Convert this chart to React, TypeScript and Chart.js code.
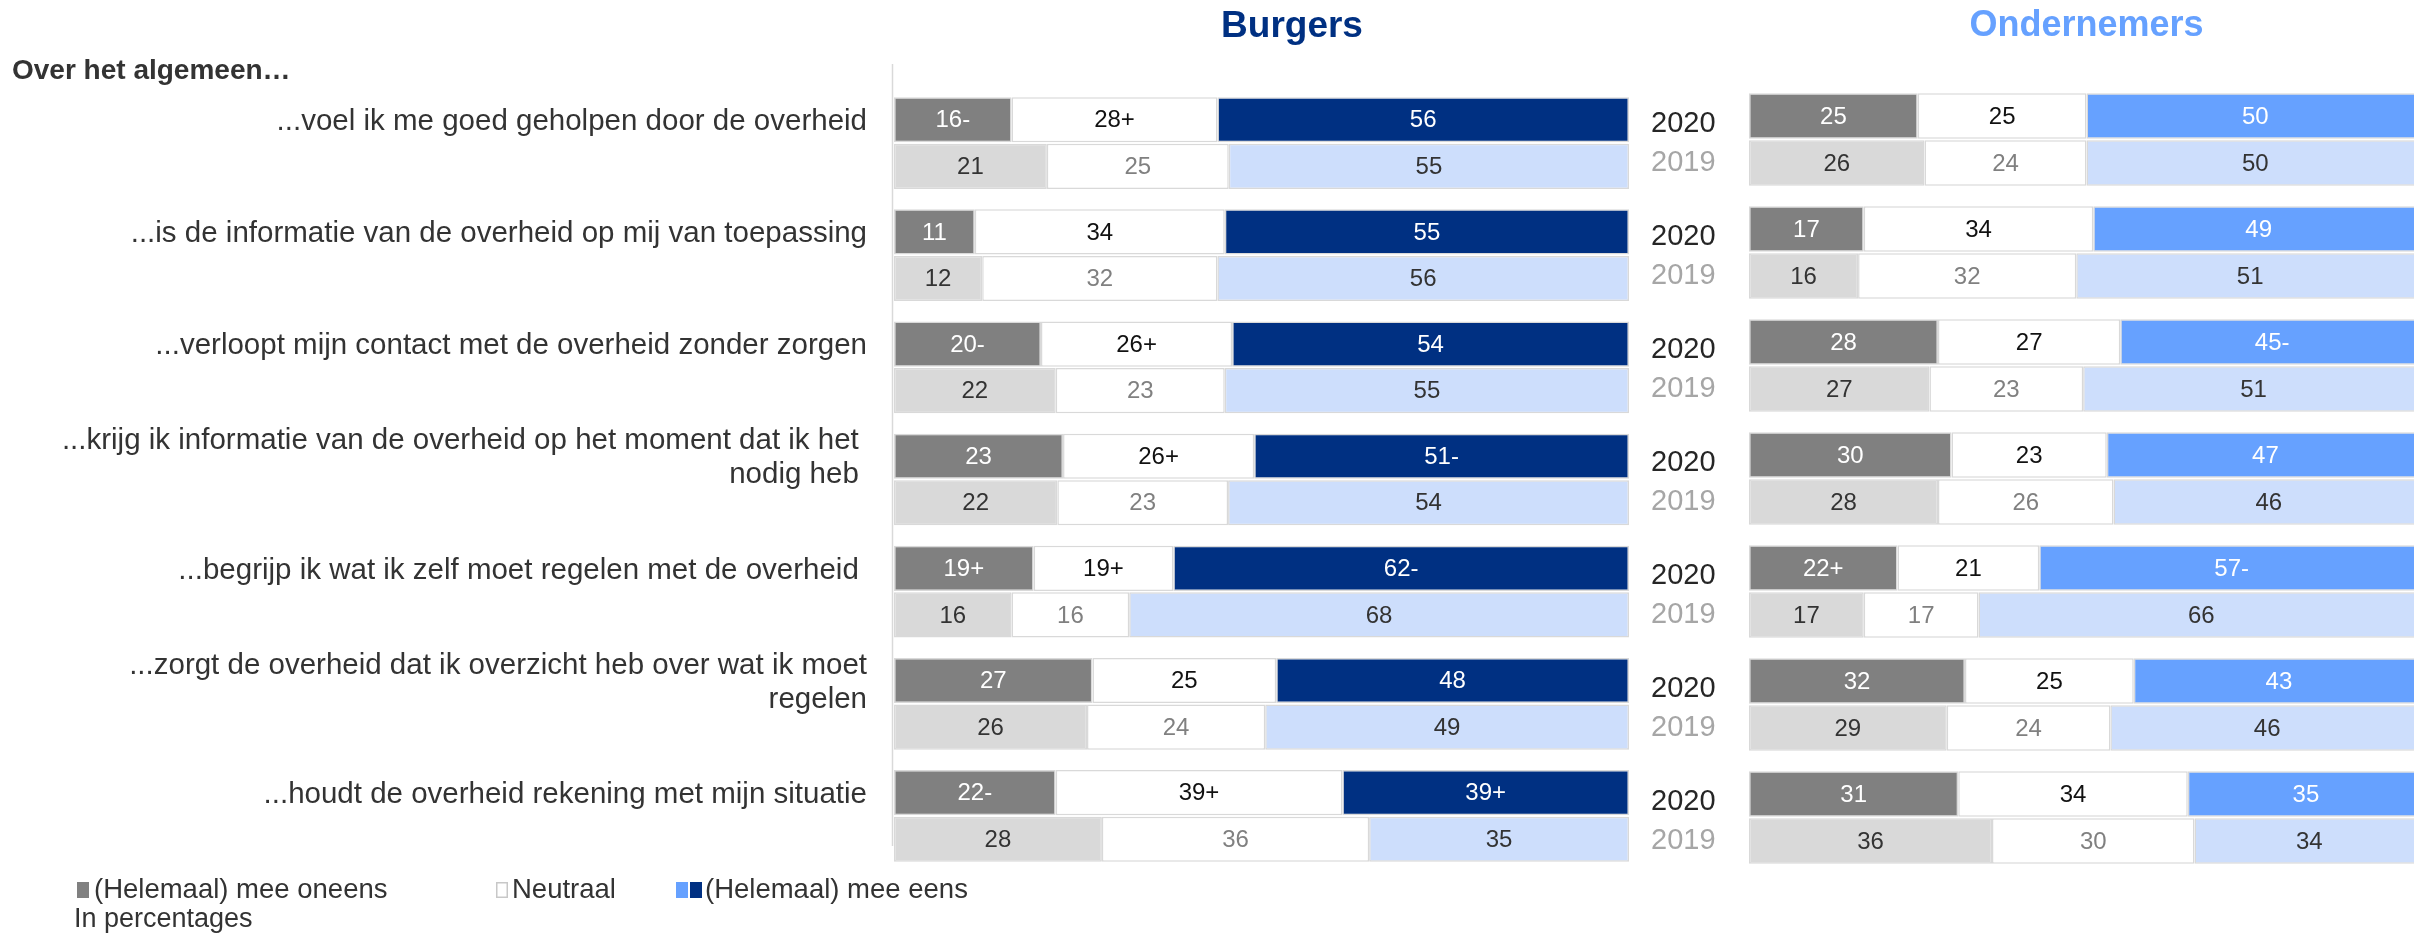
import React, { useEffect, useRef } from 'react';
import { Chart, registerables } from 'chart.js';

Chart.register(...registerables);

const FONT = '"Liberation Sans", Arial, Helvetica, sans-serif';

// ---------- data ----------
const heading = 'Over het algemeen…';
const panelTitles = ['Burgers', 'Ondernemers'];
const years = ['2020', '2019'];
const legendLabels = ['(Helemaal) mee oneens', 'Neutraal', '(Helemaal) mee eens'];
const footnote = 'In percentages';

const categories: string[][] = [
  ['...voel ik me goed geholpen door de overheid'],
  ['...is de informatie van de overheid op mij van toepassing'],
  ['...verloopt mijn contact met de overheid zonder zorgen'],
  ['...krijg ik informatie van de overheid op het moment dat ik het ', 'nodig heb '],
  ['...begrijp ik wat ik zelf moet regelen met de overheid '],
  ['...zorgt de overheid dat ik overzicht heb over wat ik moet', 'regelen'],
  ['...houdt de overheid rekening met mijn situatie'],
];

// Burgers
const burgers2020Disagree = [16, 11, 20, 23, 19, 27, 22];
const burgers2020DisagreeMark = ['-', '', '-', '', '+', '', '-'];
const burgers2020Neutral = [28, 34, 26, 26, 19, 25, 39];
const burgers2020NeutralMark = ['+', '', '+', '+', '+', '', '+'];
const burgers2020Agree = [56, 55, 54, 51, 62, 48, 39];
const burgers2020AgreeMark = ['', '', '', '-', '-', '', '+'];
const burgers2019Disagree = [21, 12, 22, 22, 16, 26, 28];
const burgers2019Neutral = [25, 32, 23, 23, 16, 24, 36];
const burgers2019Agree = [55, 56, 55, 54, 68, 49, 35];

// Ondernemers
const onder2020Disagree = [25, 17, 28, 30, 22, 32, 31];
const onder2020DisagreeMark = ['', '', '', '', '+', '', ''];
const onder2020Neutral = [25, 34, 27, 23, 21, 25, 34];
const onder2020NeutralMark = ['', '', '', '', '', '', ''];
const onder2020Agree = [50, 49, 45, 47, 57, 43, 35];
const onder2020AgreeMark = ['', '', '-', '', '-', '', ''];
const onder2019Disagree = [26, 16, 27, 28, 17, 29, 36];
const onder2019Neutral = [24, 32, 23, 26, 17, 24, 30];
const onder2019Agree = [50, 51, 51, 46, 66, 46, 34];

const noMarks = ['', '', '', '', '', '', ''];

// ---------- styles ----------
const C = {
  disagree20: '#808080',
  neutral: '#ffffff',
  agreeBurgers: '#003082',
  agreeOnder: '#66a1ff',
  disagree19: '#d9d9d9',
  agree19: '#cddefc',
  border: '#d9d9d9',
  text: '#333333',
  year19: '#a6a6a6',
};

type Series = { stack: string; values: number[]; marks: string[]; fill: string; textColor: string };

function buildDatasets(series: Series[]) {
  const totals: Record<string, number[]> = {};
  series.forEach((s) => {
    if (!totals[s.stack]) totals[s.stack] = s.values.map(() => 0);
    s.values.forEach((v, i) => (totals[s.stack][i] += v));
  });
  return series.map((s, k) => ({
    label: 's' + k,
    stack: s.stack,
    data: s.values.map((v, i) => (v / totals[s.stack][i]) * 100),
    backgroundColor: s.fill,
    borderColor: C.border,
    borderWidth: 1.5,
    borderSkipped: false as const,
    categoryPercentage: 0.83,
    barPercentage: 0.97,
  }));
}

function valueLabelPlugin(series: Series[]) {
  return {
    id: 'valueLabels',
    afterDatasetsDraw(chart: any) {
      const ctx = chart.ctx;
      ctx.save();
      ctx.font = `24px ${FONT}`;
      ctx.textAlign = 'center';
      ctx.textBaseline = 'middle';
      series.forEach((s, di) => {
        const meta = chart.getDatasetMeta(di);
        meta.data.forEach((el: any, i: number) => {
          const p = el.getCenterPoint();
          ctx.fillStyle = s.textColor;
          ctx.fillText(String(s.values[i]) + (s.marks[i] || ''), p.x, p.y + 1);
        });
      });
      ctx.restore();
    },
  };
}

const burgersSeries: Series[] = [
  { stack: years[0], values: burgers2020Disagree, marks: burgers2020DisagreeMark, fill: C.disagree20, textColor: '#ffffff' },
  { stack: years[0], values: burgers2020Neutral, marks: burgers2020NeutralMark, fill: C.neutral, textColor: '#111111' },
  { stack: years[0], values: burgers2020Agree, marks: burgers2020AgreeMark, fill: C.agreeBurgers, textColor: '#ffffff' },
  { stack: years[1], values: burgers2019Disagree, marks: noMarks, fill: C.disagree19, textColor: C.text },
  { stack: years[1], values: burgers2019Neutral, marks: noMarks, fill: C.neutral, textColor: '#808080' },
  { stack: years[1], values: burgers2019Agree, marks: noMarks, fill: C.agree19, textColor: C.text },
];

const onderSeries: Series[] = [
  { stack: years[0], values: onder2020Disagree, marks: onder2020DisagreeMark, fill: C.disagree20, textColor: '#ffffff' },
  { stack: years[0], values: onder2020Neutral, marks: onder2020NeutralMark, fill: C.neutral, textColor: '#111111' },
  { stack: years[0], values: onder2020Agree, marks: onder2020AgreeMark, fill: C.agreeOnder, textColor: '#ffffff' },
  { stack: years[1], values: onder2019Disagree, marks: noMarks, fill: C.disagree19, textColor: C.text },
  { stack: years[1], values: onder2019Neutral, marks: noMarks, fill: C.neutral, textColor: '#808080' },
  { stack: years[1], values: onder2019Agree, marks: noMarks, fill: C.agree19, textColor: C.text },
];

function baseOptions(padding: any) {
  return {
    indexAxis: 'y' as const,
    responsive: false,
    animation: false as const,
    devicePixelRatio: 1,
    layout: { padding },
    plugins: { legend: { display: false }, tooltip: { enabled: false } },
    scales: {
      x: { stacked: true, min: 0, max: 100, display: false, grid: { display: false } },
      y: { stacked: true, display: false, grid: { display: false } },
    },
  };
}

const burgersDecor = {
  id: 'burgersDecor',
  beforeDatasetsDraw(chart: any) {
    const ctx = chart.ctx;
    const a = chart.chartArea;
    ctx.save();
    ctx.strokeStyle = '#d9d9d9';
    ctx.lineWidth = 1.5;
    ctx.beginPath();
    ctx.moveTo(a.left - 1.5, 64);
    ctx.lineTo(a.left - 1.5, 846);
    ctx.stroke();
    ctx.restore();
  },
  afterDraw(chart: any) {
    const ctx = chart.ctx;
    const a = chart.chartArea;
    ctx.save();
    // heading
    ctx.fillStyle = C.text;
    ctx.font = `bold 28px ${FONT}`;
    ctx.textAlign = 'left';
    ctx.textBaseline = 'alphabetic';
    ctx.fillText(heading, 12, 79);
    // title
    ctx.fillStyle = C.agreeBurgers;
    ctx.font = `bold 37px ${FONT}`;
    ctx.textAlign = 'center';
    ctx.fillText(panelTitles[0], 1292, 37);
    // category labels aligned with the 2020 bar
    const meta = chart.getDatasetMeta(0);
    ctx.fillStyle = C.text;
    ctx.font = `29.5px ${FONT}`;
    ctx.textAlign = 'right';
    ctx.textBaseline = 'middle';
    categories.forEach((lines, i) => {
      const yc = meta.data[i].y + 2;
      const lh = 34;
      lines.forEach((ln, j) => {
        ctx.fillText(ln, a.left - 27, yc + (j - (lines.length - 1) / 2) * lh);
      });
    });
    // legend
    const ly = 890;
    ctx.font = `27.5px ${FONT}`;
    ctx.textAlign = 'left';
    ctx.textBaseline = 'middle';
    const sq = (x: number, fill: string, stroke?: string) => {
      ctx.fillStyle = fill;
      ctx.fillRect(x, ly - 8, 12, 16);
      if (stroke) {
        ctx.strokeStyle = stroke;
        ctx.lineWidth = 1.5;
        ctx.strokeRect(x + 0.75, ly - 7.25, 10.5, 14.5);
      }
    };
    sq(77, C.disagree20);
    ctx.fillStyle = C.text;
    ctx.fillText(legendLabels[0], 94, ly);
    sq(496, '#ffffff', '#c8c8c8');
    ctx.fillStyle = C.text;
    ctx.fillText(legendLabels[1], 512, ly);
    sq(676, C.agreeOnder);
    sq(690, C.agreeBurgers);
    ctx.fillStyle = C.text;
    ctx.fillText(legendLabels[2], 705, ly);
    ctx.font = `27px ${FONT}`;
    ctx.fillText(footnote, 74, 920);
    ctx.restore();
  },
};

const onderDecor = {
  id: 'onderDecor',
  afterDraw(chart: any) {
    const ctx = chart.ctx;
    const a = chart.chartArea;
    const ys = chart.scales.y;
    ctx.save();
    ctx.fillStyle = C.agreeOnder;
    ctx.font = `bold 36px ${FONT}`;
    ctx.textAlign = 'center';
    ctx.textBaseline = 'alphabetic';
    ctx.fillText(panelTitles[1], (a.left + a.right) / 2, 36);
    ctx.font = `29px ${FONT}`;
    ctx.textAlign = 'left';
    ctx.textBaseline = 'middle';
    categories.forEach((_, i) => {
      const yc = ys.getPixelForValue(i);
      ctx.fillStyle = '#262626';
      ctx.fillText(years[0], 11, yc - 16);
      ctx.fillStyle = C.year19;
      ctx.fillText(years[1], 11, yc + 23);
    });
    ctx.restore();
  },
};

export default function App() {
  const ref1 = useRef<HTMLCanvasElement>(null);
  const ref2 = useRef<HTMLCanvasElement>(null);

  useEffect(() => {
    const labels = categories.map((c) => c.join(' '));
    const c1 = new Chart(ref1.current as HTMLCanvasElement, {
      type: 'bar',
      data: { labels, datasets: buildDatasets(burgersSeries) as any },
      options: baseOptions({ left: 894, right: 31, top: 87, bottom: 61 }) as any,
      plugins: [burgersDecor, valueLabelPlugin(burgersSeries)],
    });
    const c2 = new Chart(ref2.current as HTMLCanvasElement, {
      type: 'bar',
      data: { labels, datasets: buildDatasets(onderSeries) as any },
      options: baseOptions({ left: 109, right: 16, top: 83, bottom: 59 }) as any,
      plugins: [onderDecor, valueLabelPlugin(onderSeries)],
    });
    return () => {
      c1.destroy();
      c2.destroy();
    };
  }, []);

  return (
    <div
      style={{
        position: 'fixed',
        left: 0,
        top: 0,
        width: 2414,
        height: 933,
        overflow: 'hidden',
        background: '#ffffff',
      }}
    >
      <canvas
        ref={ref1}
        width={1660}
        height={933}
        style={{ position: 'absolute', left: 0, top: 0, width: 1660, height: 933 }}
      />
      <canvas
        ref={ref2}
        width={800}
        height={933}
        style={{ position: 'absolute', left: 1640, top: 0, width: 800, height: 933 }}
      />
    </div>
  );
}
